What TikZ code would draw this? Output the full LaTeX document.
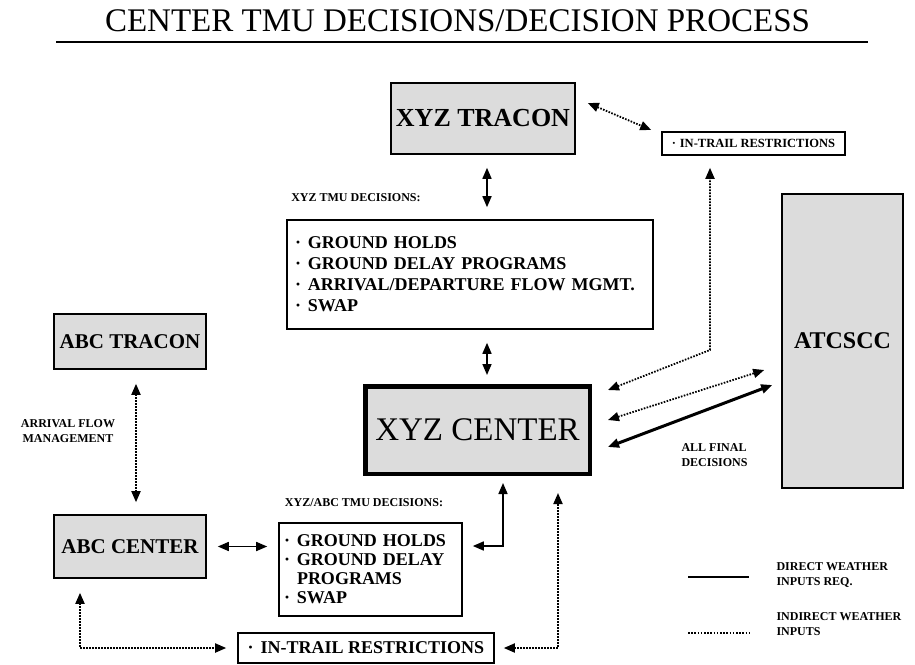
\documentclass[tikz,border=0pt]{standalone}
\usepackage{fontspec}
\setmainfont{Liberation Serif}
\usetikzlibrary{arrows.meta}
\definecolor{boxGray}{HTML}{DCDCDC}
\newcommand{\bul}[1][13pt]{\makebox[#1][l]{·}}
\newcommand{\nobul}[1][13pt]{\makebox[#1]{}}
\tikzset{
  graybox/.style={draw, line width=1.6pt, fill=boxGray, inner sep=2pt},
  listbox/.style={draw, line width=1.6pt, fill=white, align=left, inner sep=2pt},
  lbl/.style={font=\bfseries\fontsize{12}{15}\selectfont, align=center},
  dbl/.style={{Triangle[length=11pt,width=9pt]}-{Triangle[length=11pt,width=9pt]}, line width=1.6pt},
  dbldot/.style={dbl, line width=1.8pt, dash pattern=on 1.6pt off 1.4pt},
  dblthick/.style={dbl, line width=3pt},
}

\begin{document}
\begin{tikzpicture}[x=1pt, y=-1pt]
    \useasboundingbox (0,0) rectangle (915,664);
    \node[font=\fontsize{33}{36}\selectfont] (title) at (457.5,21) {CENTER TMU DECISIONS/DECISION PROCESS};
    \draw[line width=1.8pt] (56,42) -- (868,42);

    \foreach \n/\x/\y/\w/\h/\s/\t in {
        xyztracon/483/118.5/184/71/26/{XYZ TRACON},
        atcscc/842.5/341/121/294/24/{ATCSCC},
        abctracon/130/341.5/152/55/21/{ABC TRACON},
        abccenter/130/546.5/152/63/21/{ABC CENTER}} {
      \node[graybox, minimum width=\w, minimum height=\h, font=\bfseries\fontsize{\s}{\s}\selectfont] (\n) at (\x,\y) {\t};
    }
    \node[graybox, line width=4.5pt, minimum width=224.5, minimum height=87.5, font=\fontsize{33}{36}\selectfont] (xyzcenter) at (477.5,430) {XYZ CENTER};

    \node[listbox, inner xsep=8pt, text width=350, minimum height=109, font=\bfseries\fontsize{18}{21}\selectfont] (tmu) at (470,274.5)
      {\bul GROUND HOLDS\\ \bul GROUND DELAY PROGRAMS\\ \bul ARRIVAL/DEPARTURE FLOW MGMT.\\ \bul SWAP};
    \node[listbox, inner xsep=5pt, text width=173, minimum height=93, font=\bfseries\fontsize{18}{19}\selectfont] (tmuabc) at (370.5,569.5)
      {\bul GROUND HOLDS\\ \bul GROUND DELAY\\ \nobul PROGRAMS\\ \bul SWAP};
    \node[listbox, minimum width=183, minimum height=23, font=\bfseries\fontsize{12.5}{14}\selectfont] (intrailtop) at (753.5,143.5) {\bul[8pt]IN-TRAIL RESTRICTIONS};
    \node[listbox, minimum width=256, minimum height=30, font=\bfseries\fontsize{18}{20}\selectfont] (intrailbot) at (366,648) {\bul IN-TRAIL RESTRICTIONS};

    \node[lbl] (lbltmu) at (356,198) {XYZ TMU DECISIONS:};
    \node[lbl] (lbltmuabc) at (364,503) {XYZ/ABC TMU DECISIONS:};
    \node[lbl] (lblarrival) at (68,431) {ARRIVAL FLOW\\MANAGEMENT};
    \node[lbl, anchor=west, align=left] (lblfinal) at (678,455) {ALL FINAL\\DECISIONS};

    \draw[dbl] ([shift={(4,13)}]xyztracon.south) -- ([shift={(17,-12)}]tmu.north);
    \draw[dbl] ([shift={(17,13)}]tmu.south) -- ([shift={(9.5,-9)}]xyzcenter.north);
    \draw[dbldot] ([shift={(12,-15.5)}]xyztracon.east) -- ([shift={(-10,-13.5)}]intrailtop.west);
    \draw[dbldot] ([shift={(16,-40)}]xyzcenter.east) -- (710,350) -- ([shift={(-43.5,12)}]intrailtop.south);
    \draw[dbldot] ([shift={(16,-10)}]xyzcenter.east) -- ([shift={(-17,29)}]atcscc.west);
    \draw[dblthick] ([shift={(16,17)}]xyzcenter.east) -- ([shift={(-9,44)}]atcscc.west);
    \draw[dbldot] ([shift={(6,14)}]abctracon.south) -- ([shift={(6,-12)}]abccenter.north);
    \draw[dbl] ([shift={(11,0)}]abccenter.east) -- ([shift={(-11,-23)}]tmuabc.west);
    \draw[dbl] ([shift={(10,-23.5)}]tmuabc.east) -| ([shift={(25.5,7)}]xyzcenter.south);
    \draw[dbldot] ([shift={(-50,14)}]abccenter.south) |- ([shift={(-11,0)}]intrailbot.west);
    \draw[dbldot] ([shift={(9,0)}]intrailbot.east) -| ([shift={(80.5,17)}]xyzcenter.south);

    \draw[line width=1.6pt] (688,577) -- (749,577);
    \draw[line width=1.4pt, dash pattern=on 1.6pt off 1.6pt] (688,633) -- (749,633);
    \node[lbl, anchor=west, align=left] (legdirect) at (773,575) {DIRECT WEATHER\\INPUTS REQ.};
    \node[lbl, anchor=west, align=left] (legindirect) at (773,624) {INDIRECT WEATHER\\INPUTS};
\end{tikzpicture}
\end{document}
